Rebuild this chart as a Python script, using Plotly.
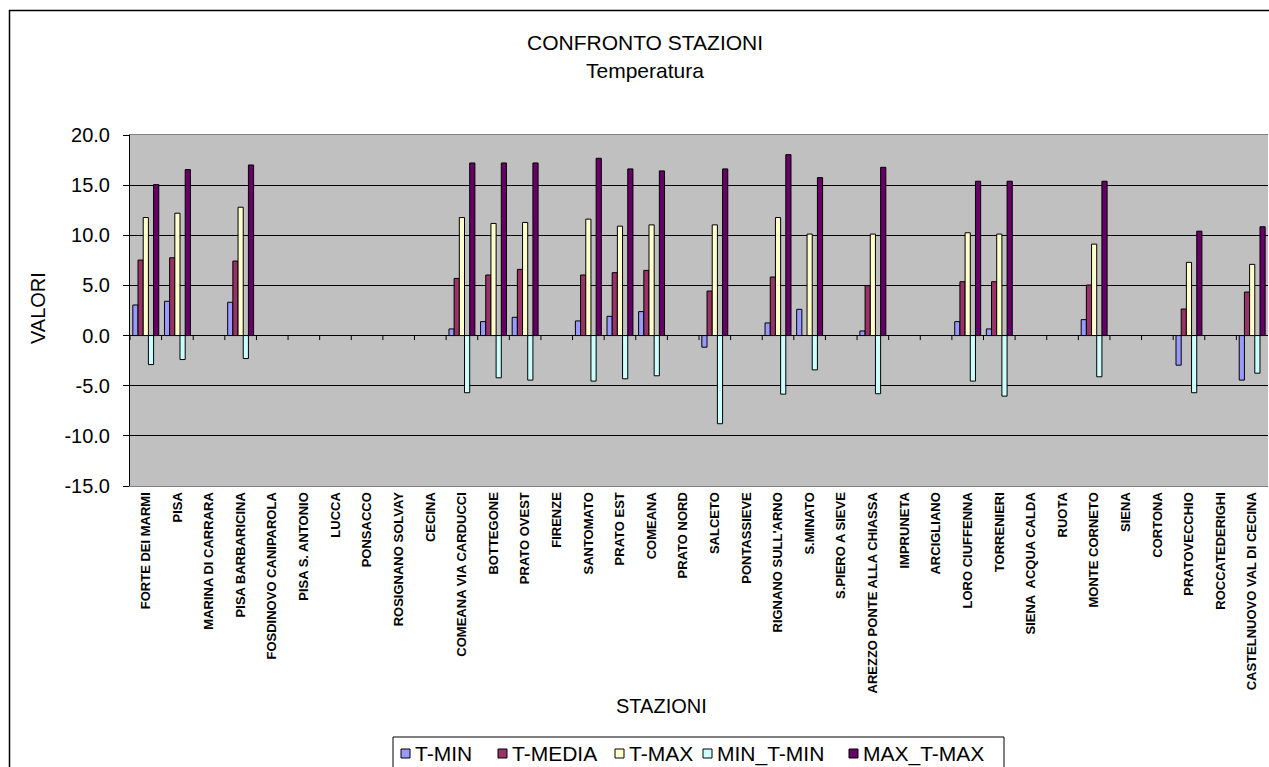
import plotly.graph_objects as go

# Stations along the category axis
stazioni = [
    "FORTE DEI MARMI", "PISA", "MARINA DI CARRARA", "PISA BARBARICINA",
    "FOSDINOVO CANIPAROLA", "PISA S. ANTONIO", "LUCCA", "PONSACCO",
    "ROSIGNANO SOLVAY", "CECINA", "COMEANA VIA CARDUCCI", "BOTTEGONE",
    "PRATO OVEST", "FIRENZE", "SANTOMATO", "PRATO EST", "COMEANA",
    "PRATO NORD", "SALCETO", "PONTASSIEVE", "RIGNANO SULL'ARNO", "S.MINATO",
    "S.PIERO A SIEVE", "AREZZO PONTE ALLA CHIASSA", "IMPRUNETA", "ARCIGLIANO",
    "LORO CIUFFENNA", "TORRENIERI", "SIENA  ACQUA CALDA", "RUOTA",
    "MONTE CORNETO", "SIENA", "CORTONA", "PRATOVECCHIO", "ROCCATEDERIGHI",
    "CASTELNUOVO VAL DI CECINA",
]

N = None
t_min = [3.05, 3.42, N, 3.32, N, N, N, N, N, N,
         0.66, 1.39, 1.82, N, 1.46, 1.92, 2.39, N, -1.16, N,
         1.26, 2.62, N, 0.46, N, N, 1.39, 0.66, N, N,
         1.59, N, N, -2.95, N, -4.44]
t_media = [7.53, 7.76, N, 7.43, N, N, N, N, N, N,
           5.70, 6.04, 6.60, N, 6.04, 6.27, 6.50, N, 4.44, N,
           5.84, N, N, 4.98, N, N, 5.37, 5.37, N, N,
           5.04, N, N, 2.65, N, 4.34]
t_max = [11.77, 12.20, N, 12.80, N, N, N, N, N, N,
         11.77, 11.18, 11.28, N, 11.61, 10.91, 11.04, N, 11.04, N,
         11.77, 10.12, N, 10.12, N, N, 10.25, 10.12, N, N,
         9.12, N, N, 7.30, N, 7.10]
min_t_min = [-2.89, -2.39, N, -2.29, N, N, N, N, N, N,
             -5.70, -4.21, -4.44, N, -4.54, -4.31, -4.01, N, -8.79, N,
             -5.84, -3.42, N, -5.80, N, N, -4.54, -6.04, N, N,
             -4.11, N, N, -5.70, N, -3.75]
max_t_max = [15.06, 16.55, N, 17.01, N, N, N, N, N, N,
             17.21, 17.21, 17.21, N, 17.68, 16.62, 16.42, N, 16.62, N,
             18.04, 15.75, N, 16.78, N, N, 15.39, 15.39, N, N,
             15.39, N, N, 10.41, N, 10.85]

# Value axis ticks
y_ticks = [-15, -10, -5, 0, 5, 10, 15, 20]
y_tick_labels = ["-15.0", "-10.0", "-5.0", "0.0", "5.0", "10.0", "15.0", "20.0"]

serie_nomi = ["T-MIN", "T-MEDIA", "T-MAX", "MIN_T-MIN", "MAX_T-MAX"]
serie_valori = [t_min, t_media, t_max, min_t_min, max_t_max]
serie_colori = ["#9999FF", "#993366", "#FFFFCC", "#CCFFFF", "#660066"]

FONT = "Liberation Sans, Arial, sans-serif"

fig = go.Figure()
for nome, valori, colore in zip(serie_nomi, serie_valori, serie_colori):
    fig.add_trace(go.Bar(
        name=nome, x=stazioni, y=valori,
        marker=dict(color=colore, line=dict(color="black", width=1)),
    ))

# Plot geometry in pixels
W, H = 1269, 767
L, R, T, B = 130, 1, 135, 281
pw, ph = W - L - R, H - T - B


def px_x(x):
    return (x - L) / pw


def px_y(y):
    return (H - B - y) / ph


shapes = []
# Category tick marks hanging below the zero line
for i in range(len(stazioni)):
    shapes.append(dict(type="line", xref="x", yref="y",
                       x0=i - 0.5, x1=i - 0.5, y0=0, y1=-0.45,
                       line=dict(color="black", width=1)))
# Outer chart frame
shapes.append(dict(type="rect", xref="paper", yref="paper",
                   x0=px_x(9.5), x1=px_x(1290), y0=px_y(800), y1=px_y(10.5),
                   line=dict(color="black", width=1.5), layer="above"))


def txt(s, x, y, size, angle=0, xanchor="center"):
    return dict(text=s, x=px_x(x), y=px_y(y), xref="paper", yref="paper",
                xanchor=xanchor, yanchor="middle", textangle=angle,
                showarrow=False, font=dict(size=size, family=FONT, color="black"))


annotations = [
    txt("CONFRONTO STAZIONI", 645, 43, 21),
    txt("Temperatura", 645, 70, 21),
    txt("VALORI", 38, 308, 20, angle=-90),
    txt("STAZIONI", 661, 706, 20),
]

# Legend box with a colour key and label for each series
legend_left, legend_right, legend_top, legend_mid = 393, 1004, 737, 753.5
legend_keys = [401, 498, 615, 703, 849]
shapes.append(dict(type="rect", xref="paper", yref="paper",
                   x0=px_x(legend_left), x1=px_x(legend_right),
                   y0=px_y(800), y1=px_y(legend_top),
                   line=dict(color="black", width=1), fillcolor="white"))
for nome, colore, kx in zip(serie_nomi, serie_colori, legend_keys):
    shapes.append(dict(type="rect", xref="paper", yref="paper",
                       x0=px_x(kx), x1=px_x(kx + 9),
                       y0=px_y(legend_mid + 4.5), y1=px_y(legend_mid - 4.5),
                       line=dict(color="black", width=1), fillcolor=colore))
    annotations.append(txt(nome, kx + 12, legend_mid, 21, xanchor="left"))

fig.update_layout(
    width=W, height=H,
    margin=dict(l=L, r=R, t=T, b=B, pad=0),
    paper_bgcolor="white", plot_bgcolor="#C0C0C0",
    barmode="group", bargap=0.18, bargroupgap=0,
    font=dict(family=FONT, color="black"),
    showlegend=False,
    shapes=shapes, annotations=annotations,
)
fig.update_xaxes(
    type="category", tickangle=-90, ticks="",
    tickfont=dict(size=13, family=FONT, weight="bold"),
    showline=True, linecolor="#808080", linewidth=1, mirror=True,
    showgrid=False, range=[-0.5, len(stazioni) - 0.5],
)
fig.update_yaxes(
    range=[-15, 20], tickvals=y_ticks, ticktext=y_tick_labels,
    ticks="outside", ticklen=6, tickcolor="black", ticklabelstandoff=9,
    tickfont=dict(size=20, family=FONT),
    showline=True, linecolor="black", linewidth=1,
    showgrid=True, gridcolor="black", gridwidth=1,
    zeroline=True, zerolinecolor="black", zerolinewidth=1,
)

fig.write_html("out.html")
